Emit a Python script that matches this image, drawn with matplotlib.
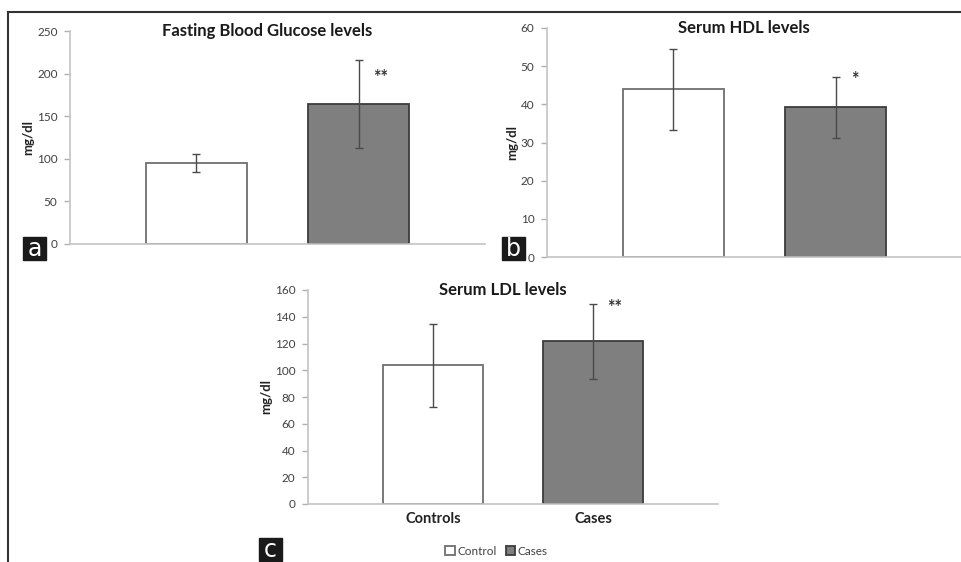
import matplotlib
matplotlib.use("Agg")
import matplotlib.pyplot as plt
from matplotlib.lines import Line2D
from matplotlib.patches import Rectangle

groups = ["Controls", "Cases"]
legend_names = ["Control", "Cases"]

glucose_mean = [95.5, 164.5]
glucose_sd = [10.5, 51.5]
hdl_mean = [44.0, 39.2]
hdl_sd = [10.6, 7.9]
ldl_mean = [103.7, 121.7]
ldl_sd = [31.0, 28.0]

titles = ["Fasting Blood Glucose levels", "Serum HDL levels", "Serum LDL levels"]
stars = ["**", "*", "**"]
ymax = [250, 60, 160]
ystep = [50, 10, 20]

plt.rcParams['font.family'] = ['Lato', 'DejaVu Sans']

W, H = 962, 562
fig = plt.figure(figsize=(W / 100, H / 100), dpi=100)


def px_axes(x0, y0, x1, y1):
    # pixel box (top-left origin) -> figure fraction
    return fig.add_axes([x0 / W, 1 - y1 / H, (x1 - x0) / W, (y1 - y0) / H])


ax_a = px_axes(70, 31, 485, 244)
ax_b = px_axes(547, 28, 962, 257)
ax_c = px_axes(308, 290, 718, 504)

panels = [
    (ax_a, glucose_mean, glucose_sd, (22, -18)),
    (ax_b, hdl_mean, hdl_sd, (19, -2)),
    (ax_c, ldl_mean, ldl_sd, (22, -4)),
]

x = [0, 1]
for i, (ax, mean, sd, star_off) in enumerate(panels):
    bars = ax.bar(x, mean, width=0.62, color=["white", "#7f7f7f"],
                  edgecolor=["#6e6e6e", "#3c3c3c"], linewidth=1.3, zorder=2)
    ax.errorbar(x, mean, yerr=sd, fmt="none", ecolor="#4a4a4a",
                elinewidth=1, capsize=3, capthick=1, zorder=3)
    ax.set_xlim(-0.78, 1.78)
    ax.set_ylim(0, ymax[i])
    ax.set_yticks(range(0, ymax[i] + 1, ystep[i]))
    ax.tick_params(axis="y", length=4, width=1, color="#b0b0b0",
                   labelsize=8.5, labelcolor="#404040", pad=5)
    for s in ["top", "right"]:
        ax.spines[s].set_visible(False)
    for s in ["left", "bottom"]:
        ax.spines[s].set_color("#c4c4c4")
        ax.spines[s].set_linewidth(1.2)
    ax.set_ylabel("mg/dl", fontsize=9.5, fontweight="bold", color="#222222", labelpad=2)
    ax.text(0.475, 1.0, titles[i], transform=ax.transAxes, ha="center",
            va="center", fontsize=12, fontweight="bold", color="#1a1a1a")
    ax.annotate(stars[i], xy=(1, mean[1] + sd[1]), xytext=star_off,
                textcoords="offset pixels", ha="center", va="center",
                fontsize=13, fontweight="bold", color="#333333")
    if ax is ax_c:
        ax.set_xticks(x)
        ax.set_xticklabels(groups, fontsize=10.5, fontweight="bold", color="#222222")
        ax.tick_params(axis="x", length=0, pad=6)
        ax.legend(bars, legend_names, loc="center", bbox_to_anchor=(0.46, -0.22),
                  ncol=2, frameon=False, fontsize=8.5, labelcolor="#404040",
                  handlelength=0.8, handleheight=0.8, handletextpad=0.2,
                  columnspacing=0.8)
    else:
        ax.set_xticks([])

# outer frame lines
fig.add_artist(Line2D([8 / W, 8 / W], [0, 1 - 12 / H], transform=fig.transFigure,
                      color="#333333", lw=1.5))
fig.add_artist(Line2D([8 / W, 1], [1 - 12 / H, 1 - 12 / H], transform=fig.transFigure,
                      color="#333333", lw=1.5))

# panel letters
for letter, (lx, ly) in zip(["a", "b", "c"], [(23, 237), (502, 237), (259, 538)]):
    fig.add_artist(Rectangle((lx / W, 1 - (ly + 23) / H), 23 / W, 23 / H,
                             transform=fig.transFigure, color="#1a1a1a"))
    fig.text((lx + 11.5) / W, 1 - (ly + 12) / H, letter, color="white",
             fontsize=17, ha="center", va="center", family="DejaVu Sans")

fig.savefig("out.png", dpi=100)
